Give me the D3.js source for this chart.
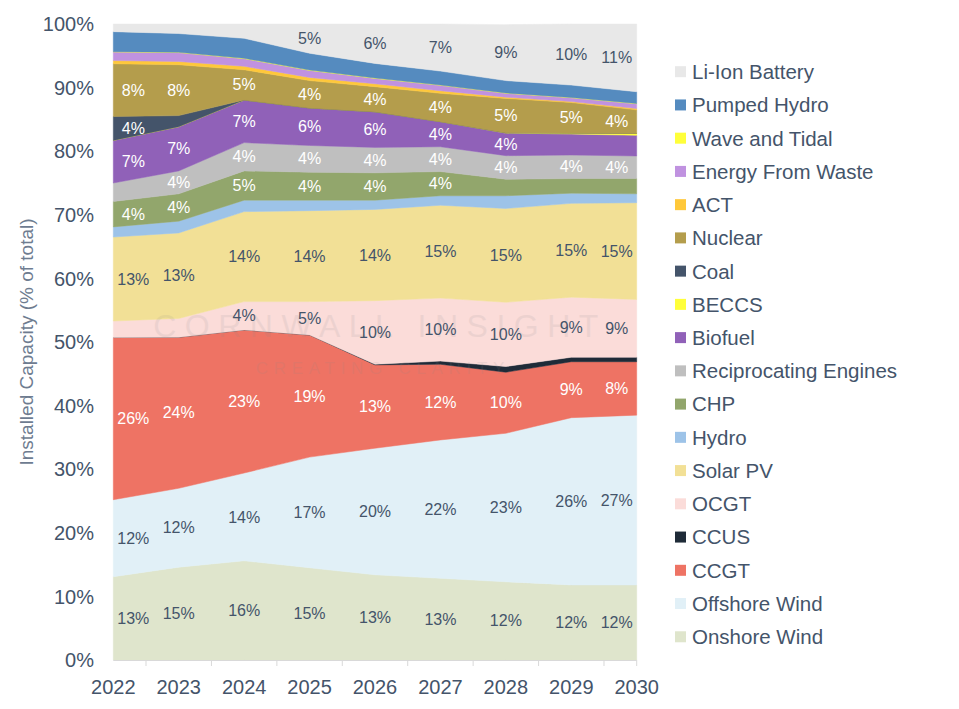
<!DOCTYPE html>
<html>
<head>
<meta charset="utf-8">
<script src="https://cdn.jsdelivr.net/npm/d3@7"></script>
<style>
  body { margin: 0; background: #fff; }
  svg text { font-family: "Liberation Sans", Arial, sans-serif; }
</style>
</head>
<body>
<div id="chart"></div>
<script>

// ======================= //
// DATA
// ======================= //

var years = ["2022","2023","2024","2025","2026","2027","2028","2029","2030"]

// series, bottom of the stack first (% of installed capacity)
var onshoreWind   = [13.1, 14.6, 15.6, 14.5, 13.4, 12.85, 12.3, 11.8, 11.8]
var offshoreWind  = [12.1, 12.4, 13.8, 17.4, 19.9, 21.75, 23.35, 26.3, 26.7]
var ccgt          = [25.5, 23.75, 22.5, 19.2, 13.1, 11.9, 9.6, 8.8, 8.4]
var ccus          = [0, 0, 0, 0, 0.1, 0.5, 0.9, 0.7, 0.7]
var ocgt          = [2.6, 2.95, 4.45, 5.25, 10.0, 9.9, 10.1, 9.45, 9.1]
var solarPV       = [13.2, 13.45, 14.15, 14.3, 14.35, 14.6, 14.75, 14.75, 15.2]
var hydro         = [1.6, 1.85, 1.8, 1.65, 1.45, 1.5, 2.0, 1.6, 1.4]
var chp           = [4.0, 4.3, 4.6, 4.4, 4.3, 3.8, 2.6, 2.3, 2.4]
var recipEngines  = [2.9, 3.6, 4.45, 4.2, 4.0, 3.9, 3.7, 3.7, 3.55]
var biofuel       = [6.7, 6.95, 6.7, 5.9, 5.6, 3.95, 3.55, 3.3, 3.25]
var beccs         = [0, 0, 0, 0, 0, 0, 0.05, 0.15, 0.3]
var coal          = [3.75, 1.75, 0, 0, 0, 0, 0, 0, 0]
var nuclear       = [8.3, 8.0, 4.75, 4.3, 3.95, 4.45, 5.4, 4.8, 3.7]
var act           = [0.5, 0.5, 0.55, 0.5, 0.45, 0.4, 0.2, 0.15, 0.2]
var energyWaste   = [1.35, 1.4, 1.2, 1.1, 0.85, 0.85, 0.6, 0.6, 0.75]
var waveTidal     = [0.05, 0.05, 0.05, 0.05, 0.05, 0.05, 0.05, 0.05, 0.05]
var pumpedHydro   = [3.15, 2.95, 3.15, 2.65, 2.3, 2.2, 1.95, 1.95, 1.85]
var liIonBattery  = [1.2, 1.5, 2.25, 4.6, 6.2, 7.4, 8.8, 9.6, 10.65]

var yTicks = [0, 10, 20, 30, 40, 50, 60, 70, 80, 90, 100]

// name, values, fill colour, label colour (null = no labels)
var series = [
  ["Onshore Wind", onshoreWind, "#dfe5cc", "#44546a"],
  ["Offshore Wind", offshoreWind, "#e1f0f7", "#44546a"],
  ["CCGT", ccgt, "#ee7364", "#ffffff"],
  ["CCUS", ccus, "#1f2b38", null],
  ["OCGT", ocgt, "#fbdcd9", "#44546a"],
  ["Solar PV", solarPV, "#f2e096", "#44546a"],
  ["Hydro", hydro, "#9dc3e8", null],
  ["CHP", chp, "#92a66c", "#ffffff"],
  ["Reciprocating Engines", recipEngines, "#bfbfbf", "#ffffff"],
  ["Biofuel", biofuel, "#9061b8", "#ffffff"],
  ["BECCS", beccs, "#ffff3a", null],
  ["Coal", coal, "#44546a", "#ffffff"],
  ["Nuclear", nuclear, "#b49d4c", "#ffffff"],
  ["ACT", act, "#ffc83a", null],
  ["Energy From Waste", energyWaste, "#c092e0", null],
  ["Wave and Tidal", waveTidal, "#ffff3a", null],
  ["Pumped Hydro", pumpedHydro, "#558bbf", null],
  ["Li-Ion Battery", liIonBattery, "#e8e8e8", "#44546a"]
]

var keys = series.map(function(s){ return s[0] })

// one row per year for d3.stack
var table = years.map(function(yr, i){
  var row = { year: yr }
  series.forEach(function(s){ row[s[0]] = s[1][i] })
  return row
})

// ======================= //
// SVG, SCALES
// ======================= //

var width = 959, height = 709

var svg = d3.select("#chart")
  .append("svg")
    .attr("width", width)
    .attr("height", height)

var x = d3.scalePoint()
  .domain(years)
  .range([113.3, 636.7])

var y = d3.scaleLinear()
  .domain([0, 100])
  .range([660, 24])

var color = d3.scaleOrdinal()
  .domain(keys)
  .range(series.map(function(s){ return s[2] }))

// ======================= //
// AREAS
// ======================= //

var stackedData = d3.stack()
  .keys(keys)
  (table)

var area = d3.area()
  .x(function(d){ return x(d.data.year) })
  .y0(function(d){ return y(d[0]) })
  .y1(function(d){ return y(d[1]) })

svg.append("g")
  .selectAll("path")
  .data(stackedData)
  .enter()
  .append("path")
    .attr("d", area)
    .attr("fill", function(d){ return color(d.key) })
    .attr("stroke", function(d){ return color(d.key) })
    .attr("stroke-width", 0.5)

// ======================= //
// WATERMARK
// ======================= //

svg.append("text")
    .attr("x", 380)
    .attr("y", 337)
    .attr("text-anchor", "middle")
    .style("font-size", "32px")
    .style("letter-spacing", "8.5px")
    .style("fill", "#8a8a8a")
    .style("opacity", 0.12)
    .text("CORNWALL INSIGHT")

svg.append("text")
    .attr("x", 383)
    .attr("y", 374)
    .attr("text-anchor", "middle")
    .style("font-size", "17px")
    .style("letter-spacing", "5.7px")
    .style("fill", "#8a8a8a")
    .style("opacity", 0.12)
    .text("CREATING CLARITY")

// ======================= //
// DATA LABELS
// ======================= //

var labels = []
stackedData.forEach(function(layer, k){
  var txtColor = series[k][3]
  if (!txtColor) return
  layer.forEach(function(d, i){
    var v = d[1] - d[0]
    if (v < 3.5) return
    var px = x(d.data.year)
    if (i == 0) px += 20
    if (i == years.length - 1) px -= 20
    labels.push({ x: px, y: y((d[0] + d[1]) / 2), text: Math.round(v) + "%", color: txtColor })
  })
})

svg.append("g")
  .selectAll("text")
  .data(labels)
  .enter()
  .append("text")
    .attr("x", function(d){ return d.x })
    .attr("y", function(d){ return d.y })
    .attr("dy", "0.35em")
    .attr("text-anchor", "middle")
    .style("font-size", "16px")
    .style("fill", function(d){ return d.color })
    .text(function(d){ return d.text })

// ======================= //
// AXES
// ======================= //

// x axis line and ticks between the years
var step = x.step()
var xTickPos = years.slice(0, -1).map(function(yr){ return x(yr) + step / 2 })
xTickPos.push(x(years[years.length - 1]))

svg.append("line")
    .attr("x1", x(years[0]))
    .attr("x2", x(years[years.length - 1]))
    .attr("y1", y(0) + 0.5)
    .attr("y2", y(0) + 0.5)
    .attr("stroke", "#d9d9d9")
    .attr("stroke-width", 1)

svg.selectAll("xTicks")
  .data(xTickPos)
  .enter()
  .append("line")
    .attr("x1", function(d){ return d })
    .attr("x2", function(d){ return d })
    .attr("y1", y(0))
    .attr("y2", y(0) + 6)
    .attr("stroke", "#d9d9d9")
    .attr("stroke-width", 1)

svg.selectAll("xLabels")
  .data(years)
  .enter()
  .append("text")
    .attr("x", function(d){ return x(d) })
    .attr("y", 694)
    .attr("text-anchor", "middle")
    .style("font-size", "20px")
    .style("fill", "#44546a")
    .text(function(d){ return d })

// y labels
svg.selectAll("yLabels")
  .data(yTicks)
  .enter()
  .append("text")
    .attr("x", 94)
    .attr("y", function(d){ return y(d) })
    .attr("dy", "0.36em")
    .attr("text-anchor", "end")
    .style("font-size", "20px")
    .style("fill", "#44546a")
    .text(function(d){ return d + "%" })

// y title
svg.append("text")
    .attr("transform", "translate(33," + y(50) + ") rotate(-90)")
    .attr("text-anchor", "middle")
    .style("font-size", "19px")
    .style("fill", "#6e7c90")
    .text("Installed Capacity (% of total)")

// ======================= //
// LEGEND
// ======================= //

var legendItems = series.slice().reverse()

var legend = svg.append("g")
  .selectAll("g")
  .data(legendItems)
  .enter()
  .append("g")
    .attr("transform", function(d, i){ return "translate(675," + (71.7 + i * 33.24) + ")" })

legend.append("rect")
    .attr("x", 0)
    .attr("y", -5.5)
    .attr("width", 11)
    .attr("height", 11)
    .attr("fill", function(d){ return d[2] })

legend.append("text")
    .attr("x", 17)
    .attr("y", 0)
    .attr("dy", "0.36em")
    .style("font-size", "20.5px")
    .style("fill", "#44546a")
    .text(function(d){ return d[0] })

</script>
</body>
</html>
